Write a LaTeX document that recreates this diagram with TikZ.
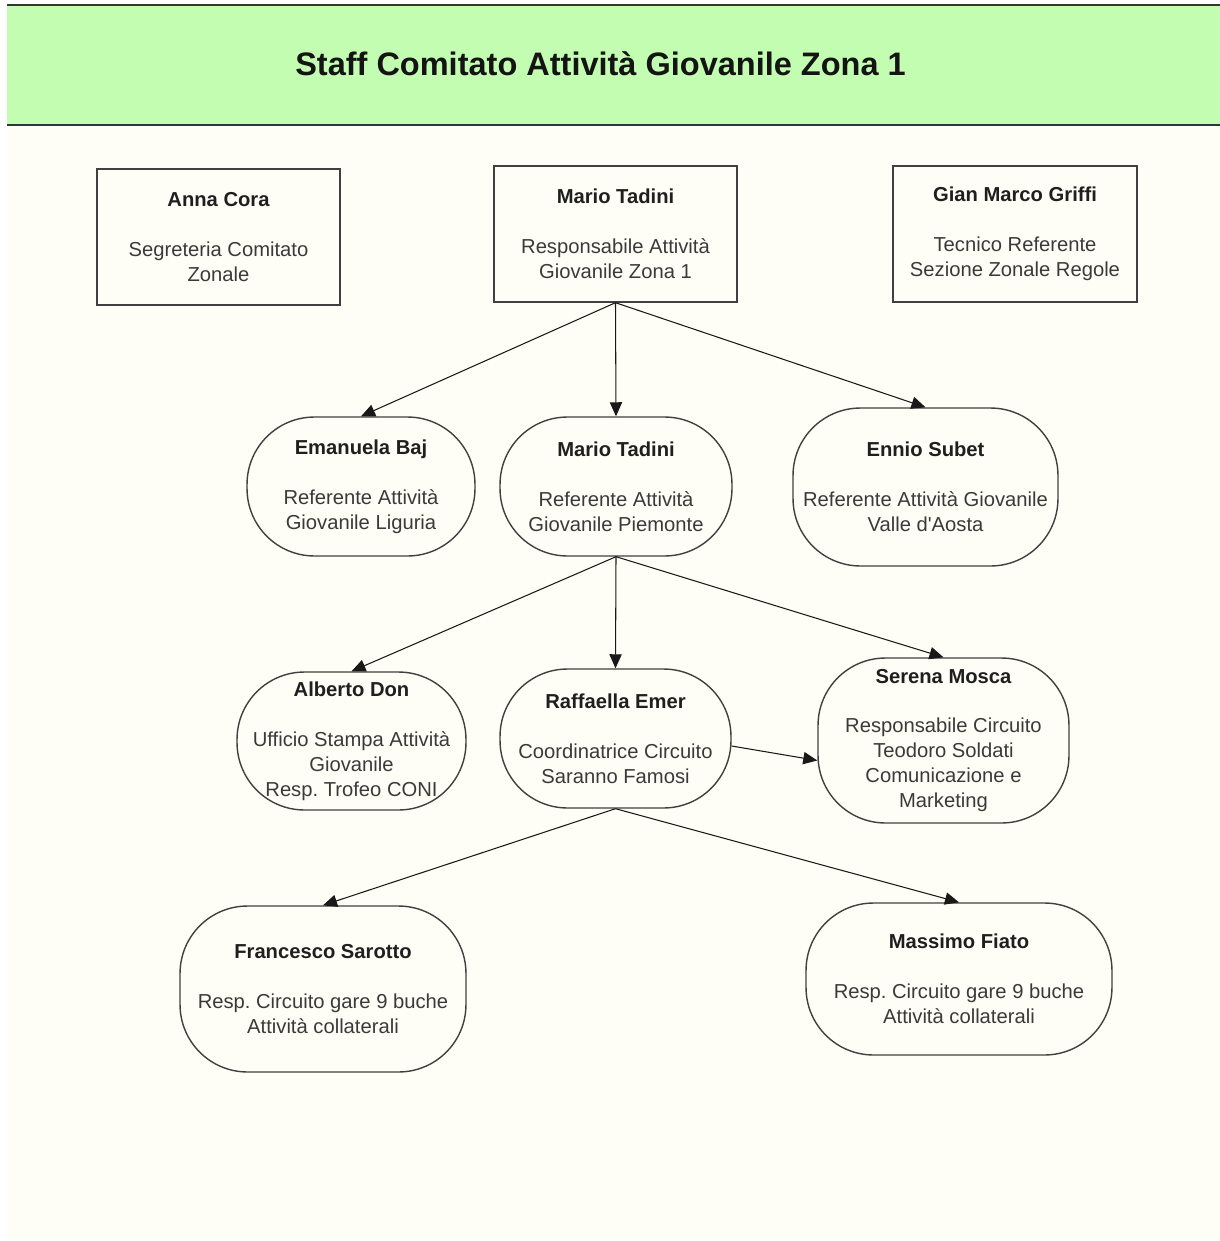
\documentclass[tikz,border=0pt]{standalone}
\usepackage{fontspec}
\setmainfont{Liberation Sans}
\usetikzlibrary{arrows.meta}
\usetikzlibrary{positioning}

\definecolor{bandgreen}{HTML}{C3FDB1}
\definecolor{bandline}{HTML}{2E3A2E}
\definecolor{paper}{HTML}{FEFEF6}
\definecolor{rolegray}{HTML}{3A3A3A}
\definecolor{linegray}{HTML}{404040}

\tikzset{
  staffbox/.style={draw=linegray, line width=0.8pt, fill=paper, text=rolegray,
    align=center, inner sep=0pt, font=\fontsize{11.5}{14.2}\selectfont},
  staffoval/.style={staffbox, rounded corners=1.35cm},
  link/.style={-{Triangle[length=8pt,width=7pt]}, draw=black!90, line width=0.6pt}
}
\newcommand{\who}[1]{{\bfseries\color{black!88}#1}\\[14.2pt]}
\frenchspacing

\begin{document}
\begin{tikzpicture}[x=0.02cm, y=-0.02cm]
  \useasboundingbox (0,0) rectangle (1220,1241);
  % page and title band
  \fill[paper] (7,5) rectangle (1220,1240);
  \fill[bandgreen] (7,5) rectangle (1220,125);
  \draw[bandline, line width=1pt] (7,5) -- (1220,5);
  \draw[bandline, line width=1pt] (7,125) -- (1220,125);
  \node[font=\bfseries\fontsize{18.5}{22}\selectfont, text=black!92] (title) at (600.5,64)
    {Staff Comitato Attività Giovanile Zona 1};

  % first row
  \node[staffbox, minimum width=4.86cm, minimum height=2.72cm] (cora) at (218.5,237)
    {\who{Anna Cora}Segreteria Comitato\\Zonale};
  \node[staffbox, minimum width=4.86cm, minimum height=2.72cm] (tadini) at (615.5,234)
    {\who{Mario Tadini}Responsabile Attività\\Giovanile Zona 1};
  \node[staffbox, minimum width=4.88cm, minimum height=2.72cm] (griffi) at (1015,234)
    {\who{Gian Marco Griffi}Tecnico Referente\\Sezione Zonale Regole};

  % regional referents
  \node[staffoval, minimum width=4.56cm, minimum height=2.78cm] (baj) at (361,486.5)
    {\who{Emanuela Baj}Referente Attività\\Giovanile Liguria};
  \node[staffoval, minimum width=4.64cm, minimum height=2.78cm] (piemonte) at (616,486.5)
    {\who{Mario Tadini}Referente Attività\\Giovanile Piemonte};
  \node[staffoval, minimum width=5.3cm, minimum height=3.16cm] (subet) at (925.5,487)
    {\who{Ennio Subet}Referente Attività Giovanile\\Valle d\textquotesingle Aosta};

  % third row
  \node[staffoval, minimum width=4.58cm, minimum height=2.76cm] (don) at (351.5,741)
    {\who{Alberto Don}Ufficio Stampa Attività\\Giovanile\\Resp. Trofeo CONI};
  \node[staffoval, minimum width=4.62cm, minimum height=2.78cm] (emer) at (615.5,738.5)
    {\who{Raffaella Emer}Coordinatrice Circuito\\Saranno Famosi};
  \node[staffoval, minimum width=5.02cm, minimum height=3.3cm] (mosca) at (943.5,740.5)
    {\who{Serena Mosca}Responsabile Circuito\\Teodoro Soldati\\Comunicazione e\\Marketing};

  % bottom row
  \node[staffoval, minimum width=5.72cm, minimum height=3.32cm] (sarotto) at (323,989)
    {\who{Francesco Sarotto}Resp. Circuito gare 9 buche\\Attività collaterali};
  \node[staffoval, minimum width=6.12cm, minimum height=3.04cm] (fiato) at (959,979)
    {\who{Massimo Fiato}Resp. Circuito gare 9 buche\\Attività collaterali};

  % connectors
  \draw[link] (tadini.south) -- (baj.north);
  \draw[link] (tadini.south) -- (piemonte.north);
  \draw[link] (tadini.south) -- (subet.north);
  \draw[link] (piemonte.south) -- (don.north);
  \draw[link] (piemonte.south) -- (emer.north);
  \draw[link] (piemonte.south) -- (mosca.north);
  \draw[link] ([yshift=-0.15cm]emer.east) -- ([yshift=-0.4cm]mosca.west);
  \draw[link] (emer.south) -- (sarotto.north);
  \draw[link] (emer.south) -- (fiato.north);
\end{tikzpicture}
\end{document}
